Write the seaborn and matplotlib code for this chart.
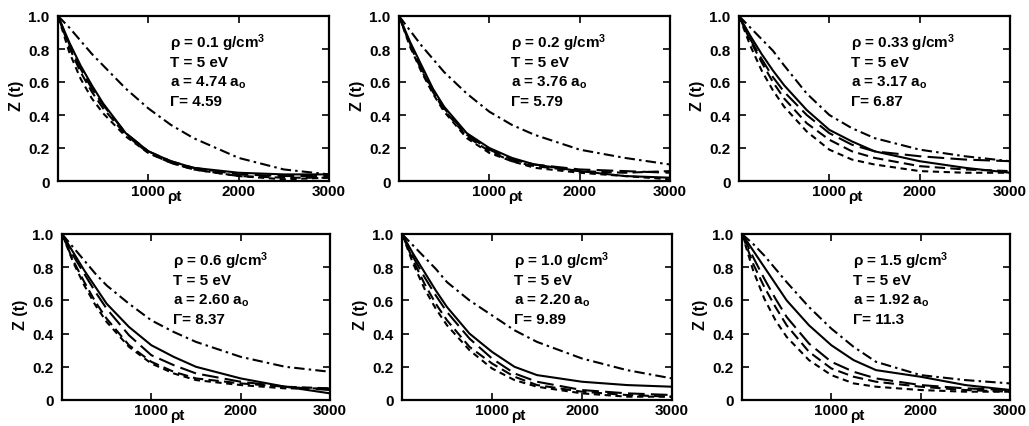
import numpy as np
import pandas as pd
import matplotlib
matplotlib.use("Agg")
import matplotlib.pyplot as plt
import seaborn as sns

# ---------------- data ----------------
rho_t = [0, 125, 250, 375, 500, 750, 1000, 1250, 1500, 2000, 2500, 3000]

curve_names = ["solid", "dashdot", "long", "medium", "short"]

panel_labels = [
    ["ρ = 0.1 g/cm$^3$", "T = 5 eV", "a = 4.74 a$_o$", "Γ= 4.59"],
    ["ρ = 0.2 g/cm$^3$", "T = 5 eV", "a = 3.76 a$_o$", "Γ= 5.79"],
    ["ρ = 0.33 g/cm$^3$", "T = 5 eV", "a = 3.17 a$_o$", "Γ= 6.87"],
    ["ρ = 0.6 g/cm$^3$", "T = 5 eV", "a = 2.60 a$_o$", "Γ= 8.37"],
    ["ρ = 1.0 g/cm$^3$", "T = 5 eV", "a = 2.20 a$_o$", "Γ= 9.89"],
    ["ρ = 1.5 g/cm$^3$", "T = 5 eV", "a = 1.92 a$_o$", "Γ= 11.3"],
]

# panel 1 : rho = 0.1
p1_solid   = [1.0, 0.84, 0.70, 0.58, 0.47, 0.29, 0.18, 0.12, 0.08, 0.05, 0.04, 0.04]
p1_dashdot = [1.0, 0.93, 0.85, 0.77, 0.70, 0.56, 0.44, 0.34, 0.26, 0.14, 0.07, 0.04]
p1_long    = [1.0, 0.83, 0.68, 0.56, 0.46, 0.29, 0.18, 0.12, 0.08, 0.04, 0.03, 0.03]
p1_medium  = [1.0, 0.81, 0.66, 0.54, 0.44, 0.28, 0.17, 0.11, 0.07, 0.03, 0.02, 0.02]
p1_short   = [1.0, 0.78, 0.62, 0.50, 0.41, 0.27, 0.17, 0.11, 0.07, 0.03, 0.01, 0.02]

# panel 2 : rho = 0.2
p2_solid   = [1.0, 0.84, 0.70, 0.56, 0.45, 0.29, 0.20, 0.14, 0.10, 0.06, 0.03, 0.02]
p2_dashdot = [1.0, 0.91, 0.82, 0.74, 0.66, 0.53, 0.42, 0.34, 0.28, 0.19, 0.14, 0.10]
p2_long    = [1.0, 0.83, 0.68, 0.55, 0.44, 0.28, 0.19, 0.13, 0.10, 0.07, 0.06, 0.05]
p2_medium  = [1.0, 0.82, 0.67, 0.54, 0.43, 0.27, 0.18, 0.12, 0.09, 0.06, 0.05, 0.06]
p2_short   = [1.0, 0.81, 0.66, 0.53, 0.42, 0.26, 0.17, 0.12, 0.08, 0.05, 0.03, 0.01]

# panel 3 : rho = 0.33
p3_solid   = [1.0, 0.88, 0.77, 0.67, 0.58, 0.43, 0.31, 0.24, 0.18, 0.12, 0.08, 0.05]
p3_dashdot = [1.0, 0.93, 0.86, 0.79, 0.70, 0.53, 0.40, 0.32, 0.26, 0.19, 0.15, 0.12]
p3_long    = [1.0, 0.86, 0.74, 0.63, 0.54, 0.40, 0.29, 0.22, 0.18, 0.15, 0.13, 0.12]
p3_medium  = [1.0, 0.85, 0.72, 0.60, 0.50, 0.35, 0.25, 0.18, 0.14, 0.09, 0.07, 0.06]
p3_short   = [1.0, 0.82, 0.67, 0.55, 0.45, 0.30, 0.19, 0.13, 0.10, 0.06, 0.05, 0.05]

# panel 4 : rho = 0.6
p4_solid   = [1.0, 0.89, 0.78, 0.68, 0.58, 0.44, 0.33, 0.26, 0.20, 0.13, 0.08, 0.04]
p4_dashdot = [1.0, 0.92, 0.84, 0.76, 0.69, 0.58, 0.48, 0.41, 0.35, 0.26, 0.20, 0.17]
p4_long    = [1.0, 0.87, 0.76, 0.65, 0.55, 0.39, 0.27, 0.21, 0.16, 0.11, 0.08, 0.06]
p4_medium  = [1.0, 0.84, 0.71, 0.59, 0.49, 0.33, 0.23, 0.17, 0.13, 0.10, 0.08, 0.07]
p4_short   = [1.0, 0.83, 0.69, 0.57, 0.47, 0.32, 0.22, 0.16, 0.12, 0.09, 0.07, 0.07]

# panel 5 : rho = 1.0
p5_solid   = [1.0, 0.88, 0.77, 0.66, 0.56, 0.40, 0.29, 0.20, 0.15, 0.11, 0.09, 0.08]
p5_dashdot = [1.0, 0.93, 0.86, 0.79, 0.71, 0.60, 0.51, 0.42, 0.35, 0.25, 0.18, 0.13]
p5_long    = [1.0, 0.86, 0.74, 0.63, 0.53, 0.37, 0.25, 0.16, 0.11, 0.06, 0.04, 0.03]
p5_medium  = [1.0, 0.84, 0.70, 0.58, 0.48, 0.32, 0.22, 0.14, 0.09, 0.05, 0.03, 0.02]
p5_short   = [1.0, 0.82, 0.67, 0.55, 0.45, 0.30, 0.19, 0.12, 0.08, 0.04, 0.02, 0.02]

# panel 6 : rho = 1.5
p6_solid   = [1.0, 0.90, 0.80, 0.70, 0.60, 0.45, 0.33, 0.24, 0.18, 0.14, 0.09, 0.06]
p6_dashdot = [1.0, 0.94, 0.87, 0.79, 0.71, 0.56, 0.43, 0.32, 0.23, 0.15, 0.12, 0.10]
p6_long    = [1.0, 0.86, 0.73, 0.61, 0.50, 0.34, 0.23, 0.17, 0.13, 0.09, 0.07, 0.06]
p6_medium  = [1.0, 0.82, 0.68, 0.56, 0.45, 0.29, 0.19, 0.14, 0.11, 0.08, 0.06, 0.05]
p6_short   = [1.0, 0.78, 0.61, 0.48, 0.38, 0.24, 0.15, 0.10, 0.08, 0.06, 0.05, 0.05]

panels = [
    [p1_solid, p1_dashdot, p1_long, p1_medium, p1_short],
    [p2_solid, p2_dashdot, p2_long, p2_medium, p2_short],
    [p3_solid, p3_dashdot, p3_long, p3_medium, p3_short],
    [p4_solid, p4_dashdot, p4_long, p4_medium, p4_short],
    [p5_solid, p5_dashdot, p5_long, p5_medium, p5_short],
    [p6_solid, p6_dashdot, p6_long, p6_medium, p6_short],
]

x_ticks = [1000, 2000, 3000]
y_ticks = [0, 0.2, 0.4, 0.6, 0.8, 1.0]
y_ticklabels = ["0", "0.2", "0.4", "0.6", "0.8", "1.0"]

# ---------------- style ----------------
sns.set_theme(style="ticks")
plt.rcParams["font.family"] = ["Liberation Sans", "DejaVu Sans"]
plt.rcParams["font.weight"] = "bold"
plt.rcParams["text.color"] = "black"
plt.rcParams["axes.labelcolor"] = "black"
plt.rcParams["xtick.color"] = "black"
plt.rcParams["ytick.color"] = "black"
plt.rcParams["mathtext.fontset"] = "custom"
plt.rcParams["mathtext.rm"] = "Liberation Sans:bold"
plt.rcParams["mathtext.it"] = "Liberation Sans:bold"
plt.rcParams["mathtext.default"] = "rm"

dash_map = {
    "solid": "",
    "dashdot": (5, 2, 1.2, 2),
    "long": (8, 3),
    "medium": (5, 2.5),
    "short": (3, 2.2),
}

FS = 11

fig = plt.figure(figsize=(10.29, 4.27), dpi=100)
W, H = 1029, 427
# pixel boxes (left, top, right, bottom)
boxes = [
    (58, 17, 329, 182), (399, 17, 670, 182), (739, 17, 1010, 182),
    (62, 235, 330, 401), (402, 235, 672, 401), (742, 235, 1010, 401),
]

for i, (lft, top, rgt, bot) in enumerate(boxes):
    ax = fig.add_axes([lft / W, 1 - bot / H, (rgt - lft) / W, (bot - top) / H])
    rows = []
    for name, vals in zip(curve_names, panels[i]):
        for xv, yv in zip(rho_t, vals):
            rows.append({"rho_t": xv, "Z": yv, "curve": name})
    df = pd.DataFrame(rows)
    sns.lineplot(data=df, x="rho_t", y="Z", style="curve", dashes=dash_map,
                 color="black", linewidth=1.5, legend=False, ax=ax,
                 estimator=None, sort=False)
    ax.set_xlim(0, 3000)
    ax.set_ylim(0, 1.0)
    ax.set_xticks(x_ticks)
    ax.set_xticklabels([str(t) for t in x_ticks])
    ax.set_yticks(y_ticks)
    ax.set_yticklabels(y_ticklabels)
    ax.tick_params(direction="in", top=True, right=True, length=5, width=1.2,
                   labelsize=FS, colors="black")
    ax.tick_params(axis="x", pad=2)
    ax.tick_params(axis="y", pad=6)
    for lab in ax.get_xticklabels() + ax.get_yticklabels():
        lab.set_fontweight("bold")
    for sp in ax.spines.values():
        sp.set_visible(True)
        sp.set_linewidth(1.6)
        sp.set_color("black")
    ax.set_xlabel("ρt", fontsize=FS, fontweight="bold")
    ax.xaxis.set_label_coords(0.43, -0.05)
    ax.set_ylabel("Z (t)", fontsize=FS + 0.5, fontweight="bold")
    ax.yaxis.set_label_coords(-0.125, 0.52)
    for k, line in enumerate(panel_labels[i]):
        ax.text(0.415, 0.84 - 0.118 * k, line, transform=ax.transAxes,
                ha="left", va="center", fontsize=FS, fontweight="bold")
    ax.set_facecolor("white")

fig.patch.set_facecolor("white")
fig.savefig("out.png", dpi=100, facecolor="white")
